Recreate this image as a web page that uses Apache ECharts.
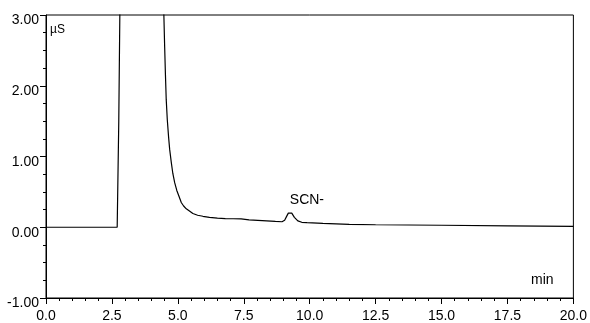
<!DOCTYPE html>
<html><head><meta charset="utf-8">
<script src="https://cdn.jsdelivr.net/npm/echarts@6/dist/echarts.min.js"></script>
<style>html,body{margin:0;padding:0;background:#fff}#c{width:590px;height:323px}</style>
</head><body><div id="c"></div>
<script>
var times = [0, 2.5, 2.70, 2.72, 2.76, 2.80, 2.83, 3.0, 4.0, 4.42, 4.47, 4.50, 4.53, 4.56, 4.60, 4.65, 4.69, 4.75, 4.81, 4.88, 4.96, 5.05, 5.13, 5.22, 5.32, 5.44, 5.57, 5.75, 5.95, 6.2, 6.5, 6.8, 7.1, 7.4, 7.7, 8.2, 8.7, 8.95, 9.05, 9.12, 9.19, 9.25, 9.32, 9.42, 9.55, 9.7, 9.9, 10.5, 11.5, 12.5, 15, 17.5, 20];
var signal = [0.00, 0.00, 0.00, 0.02, 1.5, 3.0, 4.0, 6, 6, 4.0, 3.0, 2.55, 2.15, 1.80, 1.52, 1.27, 1.10, 0.92, 0.76, 0.63, 0.52, 0.43, 0.35, 0.30, 0.26, 0.23, 0.195, 0.17, 0.155, 0.14, 0.13, 0.123, 0.12, 0.118, 0.105, 0.095, 0.082, 0.078, 0.10, 0.15, 0.20, 0.22, 0.20, 0.14, 0.09, 0.07, 0.064, 0.055, 0.042, 0.035, 0.028, 0.02, 0.012];
var peakNames = ['SCN-'];
var peakTimes = [9.25];
var peakValues = [0.22];
var xTicks = [0, 2.5, 5, 7.5, 10, 12.5, 15, 17.5, 20];
var yTicks = [-1, 0, 1, 2, 3];

var data = times.map(function (t, i) { return [t, signal[i]]; });
var chart = echarts.init(document.getElementById('c'));
var font = '"Liberation Sans", Arial, sans-serif';
chart.setOption({
  animation: false,
  backgroundColor: '#fff',
  grid: { left: 46, right: 15, top: 15, bottom: 24, show: true, borderColor: '#000', borderWidth: 1, backgroundColor: 'transparent' },
  xAxis: {
    type: 'value', min: xTicks[0], max: xTicks[xTicks.length - 1], interval: 2.5,
    axisLine: { onZero: false, lineStyle: { color: '#000', width: 1 } },
    axisTick: { inside: false, length: 6, lineStyle: { color: '#000' } },
    minorTick: { show: true, splitNumber: 5, length: 3, lineStyle: { color: '#000' } },
    splitLine: { show: false },
    axisLabel: { color: '#000', fontSize: 14, lineHeight: 14, fontFamily: font, margin: 11, formatter: function (v) { return v.toFixed(1); } }
  },
  yAxis: {
    type: 'value', min: yTicks[0], max: yTicks[yTicks.length - 1], interval: 1,
    axisLine: { show: true, onZero: false, lineStyle: { color: '#000', width: 1 } },
    axisTick: { show: true, inside: false, length: 6, lineStyle: { color: '#000' } },
    minorTick: { show: true, splitNumber: 4, length: 3, lineStyle: { color: '#000' } },
    splitLine: { show: false },
    axisLabel: { color: '#000', fontSize: 14, lineHeight: 11, verticalAlign: 'top', fontFamily: font, margin: 7, formatter: function (v) { return v.toFixed(2); } }
  },
  graphic: [
    { type: 'text', left: 50, top: 24, style: { text: 'µS', font: '12px ' + font, fill: '#000' } },
    { type: 'text', left: 531, top: 273, style: { text: 'min', font: '14px ' + font, fill: '#000' } }
  ],
  series: [{
    type: 'line', data: data, symbol: 'none', clip: true,
    smooth: false,
    lineStyle: { color: '#000', width: 1.2 },
    markPoint: {
      symbol: 'circle', symbolSize: 0,
      label: { show: true, position: 'inside', offset: [17, -12], color: '#000', fontSize: 14, fontFamily: font, formatter: '{b}' },
      data: peakNames.map(function (n, i) { return { name: n, coord: [peakTimes[i], peakValues[i]] }; })
    }
  }]
});
</script></body></html>
